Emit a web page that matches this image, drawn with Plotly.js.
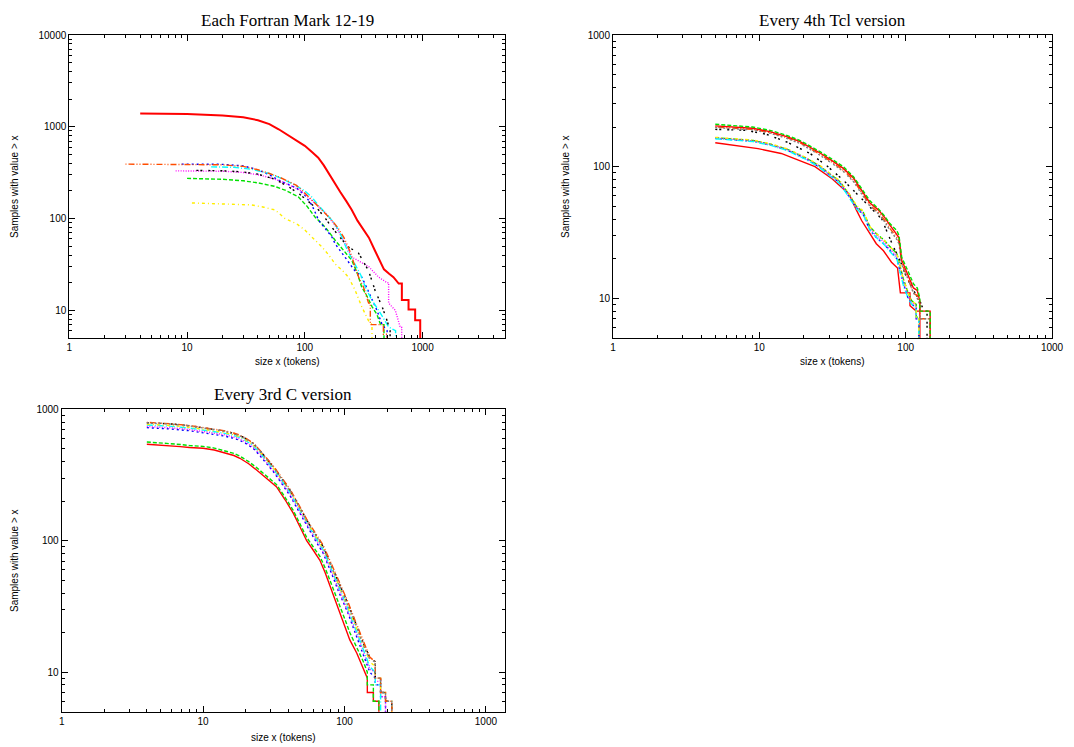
<!DOCTYPE html>
<html>
<head>
<meta charset="utf-8">
<script src="https://cdn.plot.ly/plotly-3.0.1.min.js"></script>
<style>html,body{margin:0;padding:0;background:#fff;}#chart{width:1074px;height:747px;}</style>
</head>
<body>
<div id="chart"></div>
<script>
// ---------- Panel 1: Each Fortran Mark 12-19 ----------
const p1Names = ["Mark 12","Mark 13","Mark 14","Mark 15","Mark 16","Mark 17","Mark 18","Mark 19"];
const f12x = [4, 10, 20, 30, 40, 50, 60, 70, 80, 90, 100, 115, 130, 145, 160, 180, 200, 225, 250, 280, 310, 350, 390, 430, 470, 520, 566, 627, 667, 667, 760, 760, 865, 865, 955, 955];
const f12y = [1400, 1375, 1330, 1270, 1180, 1070, 940, 830, 750, 690, 620, 530, 460, 380, 310, 235, 195, 155, 125, 95, 78, 62, 46, 35, 28, 25, 23, 19.6, 19.6, 13, 13, 10.2, 10.2, 7.8, 7.8, 4];
const f13x = [10, 20, 30, 40, 55, 68, 88, 105, 122, 150, 181, 215, 251, 280, 304, 340, 372, 410, 440, 470, 470];
const f13y = [274, 268, 258, 245, 225, 204, 173, 135, 104, 80, 58, 44, 35, 25, 18, 14, 11, 9, 7, 7, 4];
const f14x = [9, 20, 30, 40, 50, 60, 70, 85, 100, 115, 131, 150, 170, 181, 200, 230, 260, 305, 340, 372, 410, 453, 500, 500];
const f14y = [392, 390, 375, 340, 300, 262, 240, 215, 180, 140, 96, 78, 63, 53, 45, 35, 28, 23, 17, 13, 10, 7, 6, 4];
const f15x = [8, 20, 30, 40, 50, 60, 75, 90, 100, 120, 150, 180, 210, 251, 300, 348, 424, 500, 515, 515, 587, 647, 665, 665];
const f15y = [331, 328, 318, 300, 280, 260, 230, 205, 185, 150, 115, 85, 60, 38, 33, 30, 23, 20, 20, 12, 10, 6.5, 6.5, 4];
const f16x = [16, 25, 35, 50, 65, 83, 100, 114, 130, 150, 170, 190, 206, 230, 268, 300, 326, 370, 424, 470, 515, 590, 590];
const f16y = [366, 362, 345, 310, 270, 231, 200, 173, 140, 115, 96, 78, 63, 45, 32, 24, 18, 13, 10, 8, 6.6, 6, 4];
const f17x = [11, 20, 35, 45, 56, 68, 85, 100, 120, 140, 160, 181, 210, 235, 268, 304, 348, 372, 372];
const f17y = [148, 145, 141, 133, 124, 100, 88, 75, 60, 49, 40, 32, 27, 23, 16.5, 11, 7.7, 7, 4];
const f18x = [12, 20, 30, 40, 55, 73, 90, 110, 131, 150, 170, 200, 235, 286, 348, 395, 453, 500, 530, 530];
const f18y = [335, 332, 322, 305, 270, 222, 185, 150, 124, 100, 80, 62, 49, 42, 27, 16.5, 11, 7.7, 6, 4];
const f19x = [3, 10, 20, 30, 40, 50, 60, 70, 85, 100, 120, 140, 165, 190, 215, 240, 268, 290, 315, 348, 360, 360, 465, 465, 500, 500];
const f19y = [392, 390, 385, 370, 340, 310, 285, 260, 230, 190, 150, 125, 100, 80, 62, 45, 30, 22, 18, 12, 12, 7, 7, 5.5, 5.5, 3];

// ---------- Panel 2: Every 4th Tcl version ----------
const t1x = [5, 9.8, 14.1, 17.5, 24, 31.4, 41, 46, 50, 57, 63, 70.5, 80, 88, 92, 107, 107, 118, 125, 125];
const t1y = [152, 137, 126, 115, 100, 81, 62, 47, 39, 31, 26, 23, 18.8, 17, 11, 11, 8.8, 8, 8, 4];
const tLowX = [5, 9.1, 12, 15.4, 21, 26, 30, 35.6, 41.6, 46, 51.4, 57, 63, 70.5, 80, 87, 96.5, 104, 110, 118, 118, 123, 123];
const t2y = [166, 158, 148, 136, 116, 101, 89, 77, 60, 50, 45, 35, 31, 28, 24, 22, 14, 11, 9.6, 9, 7.2, 7.2, 4];
const t3y = [164, 156, 146, 134, 114, 99, 87, 75, 58, 49, 43, 33, 29, 26, 22.5, 20, 12.9, 10, 9, 8.5, 7, 7, 4];
const t4y = [165, 157, 147, 135, 115, 100, 88, 76, 59, 49, 44, 34, 30, 27, 23, 21, 13.5, 10.5, 9.3, 8.8, 7, 7, 4];
const t5y = [163, 155, 145, 133, 113, 98, 86, 74, 57, 48, 43, 33, 29, 26, 22, 20, 12.5, 10, 9, 8.5, 7, 7, 4];
const t6y = [167, 159, 149, 137, 117, 102, 90, 78, 61, 51, 46, 35, 31, 28, 24, 22, 14, 11, 9.6, 9, 7.2, 7.2, 4];
const t7x = [5, 8, 11.2, 15.4, 22.2, 28.8, 37.5, 48.8, 63, 68.7, 74, 82, 91.6, 100, 113, 125, 133, 140, 140];
const t7y = [192, 189, 176, 154, 126, 102, 79, 59, 44, 40, 32.7, 25, 19.4, 15, 11.5, 9.6, 8, 8, 4];
const tTopX = [5, 9, 12, 15.4, 19, 22, 26, 31, 37.5, 44, 50, 57, 65, 72, 78, 87, 90, 94, 104, 113, 120, 125, 125, 147, 147];
const t8y = [200, 192, 181, 166, 152, 139, 124, 109, 94, 79, 64, 51, 45, 39, 34, 29, 27, 18.5, 14, 11, 10.5, 9, 7, 7, 4];
const t9y = [198, 190, 179, 164, 150, 137, 122, 107, 92, 77, 62, 50, 44, 38, 33, 28, 26, 18, 14, 11, 10, 9, 7, 7, 4];
const t10y = [204, 196, 184, 169, 155, 142, 127, 112, 97, 82, 66, 53, 47, 41, 36, 31, 29, 19.5, 15, 12, 11.5, 9.5, 8, 8, 4];
const t11y = [210, 200, 188, 173, 158, 145, 130, 115, 100, 84, 68, 55, 48, 42, 37, 32.7, 30, 20.5, 16, 12.9, 12, 10, 8, 8, 4];

// ---------- Panel 3: Every 3rd C version ----------
const cLowX = [4, 5, 6.9, 8, 10, 12, 14.7, 16.5, 18.2, 21, 23.9, 28, 33, 38, 43.4, 48, 54, 60, 67, 73, 79, 86, 93, 101, 109, 122, 136, 145, 145, 160, 160, 175, 175];
const c1y = [542, 535, 520, 512, 505, 490, 463, 445, 424, 385, 345, 300, 258, 205, 162, 130, 100, 85, 71, 57, 45, 36, 28, 22, 17.6, 14, 10.4, 9, 7, 7, 6, 6, 4];
const c2y = [564, 556, 540, 530, 522, 507, 480, 462, 440, 400, 360, 312, 268, 214, 170, 137, 106, 90, 76, 62, 50, 40, 32, 25, 20, 15.5, 12, 10, 8, 8, 6, 6, 4];
const cTopX = [4, 5, 6, 8, 10, 12, 14, 16.4, 18, 20, 22.6, 25, 28, 31.4, 36, 41.2, 47, 54, 62, 70.8, 77, 83.4, 90, 98, 106, 115, 125, 136, 151, 165, 165, 180, 180, 195, 195, 216, 216];
const c3y = [725, 719, 707, 687, 664, 646, 627, 602, 583, 551, 505, 449, 389, 335, 272, 220, 171, 130, 101, 80, 65, 52, 42, 34, 28, 22, 17.5, 13.5, 10, 9, 8, 8, 6.5, 6.5, 4, 4, 4];
const c4y = [740, 734, 722, 702, 680, 661, 642, 616, 596, 563, 516, 460, 399, 342, 278, 225, 175, 133, 104, 82, 67, 54, 44, 35.5, 29, 23, 18.5, 14.5, 10.5, 10, 8.5, 8.5, 6.5, 6.5, 4, 4, 3];
const c5y = [760, 754, 742, 720, 697, 678, 659, 632, 612, 578, 530, 472, 409, 352, 287, 232, 180, 137, 107, 85, 69, 56, 46, 37, 30, 24, 19, 15, 11, 10, 8, 8, 4, 4, 3, 3, 3];
const c6y = [770, 764, 752, 730, 706, 687, 668, 640, 620, 585, 537, 478, 415, 358, 292, 238, 185, 140, 110, 87, 71, 58, 47, 38, 31, 25, 20, 15.8, 12, 11, 9, 9, 7, 7, 6, 6, 4];
const c7y = [791, 785, 773, 750, 725, 705, 685, 656, 635, 600, 550, 490, 425, 366, 298, 243, 189, 144, 113, 90, 73, 60, 50, 40, 33, 26.5, 21, 16.6, 13, 12, 9, 9, 7, 7, 6, 6, 4];
const c8y = [795, 788, 776, 752, 727, 707, 688, 660, 639, 604, 554, 493, 428, 370, 302, 246, 192, 146, 115, 92, 75, 62, 51, 41, 34, 27, 21.5, 17, 13, 12, 9, 9, 7, 7, 6, 6, 4];
const c9y = [788, 782, 770, 748, 722, 702, 682, 652, 631, 596, 547, 487, 422, 362, 295, 240, 187, 142, 112, 89, 72, 59, 49, 39, 32, 26, 20.5, 16, 12.5, 12, 9, 9, 7, 7, 6, 6, 4];

// axis tick labels / titles
const xTickVals = [1, 10, 100, 1000];
const xTickText = ["1", "10", "100", "1000"];
const y1TickVals = [10, 100, 1000, 10000];
const y1TickText = ["10", "100", "1000", "10000"];
const yTickVals = [10, 100, 1000];
const yTickText = ["10", "100", "1000"];
const panelTitles = ["Each Fortran Mark 12-19", "Every 4th Tcl version", "Every 3rd C version"];
const xLabel = "size x (tokens)";
const yLabel = "Samples with value > x";

// gnuplot-like line styles
const styles = [
  {color:'#ff0000', dash:'solid'},
  {color:'#00e000', dash:'4px,2px'},
  {color:'#0000ff', dash:'2px,3px'},
  {color:'#ff00ff', dash:'1px,1.5px'},
  {color:'#00ffff', dash:'6px,2px,1px,2px'},
  {color:'#ffee00', dash:'3px,3px,1px,3px'},
  {color:'#000000', dash:'2px,2px,2px,6px'},
  {color:'#ff4d00', dash:'1px,2px,6px,2px,1px,2px'},
  {color:'#808080', dash:'2px,2px,2px,2px,2px,2px,2px,4px'}
];

function tr(x, y, styleIdx, ax, name, width) {
  const s = styles[styleIdx % styles.length];
  return {
    x: x, y: y, type: 'scatter', mode: 'lines', name: name,
    xaxis: 'x' + ax, yaxis: 'y' + ax,
    line: {color: s.color, dash: s.dash, width: width || 1.4, shape: 'linear'},
    hoverinfo: 'skip'
  };
}

const data = [
  tr(f12x, f12y, 0, '', p1Names[0], 2),
  tr(f13x, f13y, 1, '', p1Names[1]),
  tr(f14x, f14y, 2, '', p1Names[2]),
  tr(f15x, f15y, 3, '', p1Names[3]),
  tr(f16x, f16y, 4, '', p1Names[4]),
  tr(f17x, f17y, 5, '', p1Names[5]),
  tr(f18x, f18y, 6, '', p1Names[6]),
  tr(f19x, f19y, 7, '', p1Names[7]),

  tr(t1x, t1y, 0, '2', 'tcl1'),
  tr(tLowX, t2y, 1, '2', 'tcl2'),
  tr(tLowX, t3y, 2, '2', 'tcl3'),
  tr(tLowX, t4y, 3, '2', 'tcl4'),
  tr(tLowX, t5y, 4, '2', 'tcl5'),
  tr(tLowX, t6y, 5, '2', 'tcl6'),
  tr(t7x, t7y, 6, '2', 'tcl7'),
  tr(tTopX, t8y, 7, '2', 'tcl8'),
  tr(tTopX, t9y, 8, '2', 'tcl9'),
  tr(tTopX, t10y, 0, '2', 'tcl10'),
  tr(tTopX, t11y, 1, '2', 'tcl11'),

  tr(cLowX, c1y, 0, '3', 'c1'),
  tr(cLowX, c2y, 1, '3', 'c2'),
  tr(cTopX, c3y, 2, '3', 'c3'),
  tr(cTopX, c4y, 3, '3', 'c4'),
  tr(cTopX, c5y, 4, '3', 'c5'),
  tr(cTopX, c6y, 5, '3', 'c6'),
  tr(cTopX, c7y, 6, '3', 'c7'),
  tr(cTopX, c8y, 7, '3', 'c8'),
  tr(cTopX, c9y, 8, '3', 'c9')
];

// invisible carriers for the mirrored (top / right) tick axes
['4', '5', '6'].forEach(function (a) {
  data.push({x: [1], y: [1], type: 'scatter', mode: 'lines', xaxis: 'x' + a, yaxis: 'y' + a,
             line: {color: 'rgba(0,0,0,0)'}, hoverinfo: 'skip', showlegend: false});
});

const W = 1074, H = 747;
function axisBase(extra) {
  return Object.assign({
    type: 'log', ticks: 'inside', ticklen: 6, tickwidth: 1, tickcolor: '#000',
    showline: true, linecolor: '#000', linewidth: 1, mirror: true,
    showgrid: false, zeroline: false, fixedrange: true,
    tickfont: {family: 'Liberation Sans, Arial, sans-serif', size: 10, color: '#000'},
    minor: {ticks: 'inside', ticklen: 3, tickwidth: 1, tickcolor: '#000', dtick: 'D1', showgrid: false}
  }, extra);
}
const L5 = Math.log10(5);
const dom = (a, b) => [a / W, b / W];
const vdom = (top, bot) => [1 - bot / H, 1 - top / H];

const px1 = dom(69.3, 505), py1 = vdom(35, 338);
const px2 = dom(613, 1052), py2 = vdom(35, 338);
const px3 = dom(61.7, 505), py3 = vdom(409.3, 711.7);
const rx1 = [0, 3.7], ry1 = [L5, 4];
const rx2 = [0, 3], ry2 = [L5, 3];
const rx3 = [0, 3.135], ry3 = [L5, 3];

const layout = {
  width: W, height: H,
  margin: {l: 0, r: 0, t: 0, b: 0},
  paper_bgcolor: '#fff', plot_bgcolor: '#fff', showlegend: false,
  font: {family: 'Liberation Sans, Arial, sans-serif', size: 10, color: '#000'},
  xaxis: axisBase({domain: px1, range: rx1, anchor: 'y', tickvals: xTickVals, ticktext: xTickText}),
  yaxis: axisBase({domain: py1, range: ry1, anchor: 'x', tickvals: y1TickVals, ticktext: y1TickText}),
  xaxis2: axisBase({domain: px2, range: rx2, anchor: 'y2', tickvals: xTickVals, ticktext: xTickText}),
  yaxis2: axisBase({domain: py2, range: ry2, anchor: 'x2', tickvals: yTickVals, ticktext: yTickText}),
  xaxis3: axisBase({domain: px3, range: rx3, anchor: 'y3', tickvals: xTickVals, ticktext: xTickText}),
  yaxis3: axisBase({domain: py3, range: ry3, anchor: 'x3', tickvals: yTickVals, ticktext: yTickText}),
  // mirrored tick axes (top and right), no labels
  xaxis4: axisBase({overlaying: 'x', side: 'top', anchor: 'y4', range: rx1, tickvals: xTickVals, showticklabels: false}),
  yaxis4: axisBase({overlaying: 'y', side: 'right', anchor: 'x4', range: ry1, tickvals: y1TickVals, showticklabels: false}),
  xaxis5: axisBase({overlaying: 'x2', side: 'top', anchor: 'y5', range: rx2, tickvals: xTickVals, showticklabels: false}),
  yaxis5: axisBase({overlaying: 'y2', side: 'right', anchor: 'x5', range: ry2, tickvals: yTickVals, showticklabels: false}),
  xaxis6: axisBase({overlaying: 'x3', side: 'top', anchor: 'y6', range: rx3, tickvals: xTickVals, showticklabels: false}),
  yaxis6: axisBase({overlaying: 'y3', side: 'right', anchor: 'x6', range: ry3, tickvals: yTickVals, showticklabels: false}),
  annotations: []
};

function ann(text, px, py, opts) {
  return Object.assign({
    text: text, xref: 'paper', yref: 'paper', x: px / W, y: 1 - py / H,
    xanchor: 'center', yanchor: 'middle', showarrow: false,
    font: {family: 'Liberation Sans, Arial, sans-serif', size: 10, color: '#000'}
  }, opts || {});
}
const serif = {family: 'Liberation Serif, Times New Roman, serif', size: 17, color: '#000'};
layout.annotations.push(ann(panelTitles[0], 287, 20, {font: serif}));
layout.annotations.push(ann(panelTitles[1], 832, 20, {font: serif}));
layout.annotations.push(ann(panelTitles[2], 283, 394, {font: serif}));
layout.annotations.push(ann(xLabel, 287, 361));
layout.annotations.push(ann(xLabel, 832, 361));
layout.annotations.push(ann(xLabel, 283, 737));
layout.annotations.push(ann(yLabel, 14, 187, {textangle: -90}));
layout.annotations.push(ann(yLabel, 565, 187, {textangle: -90}));
layout.annotations.push(ann(yLabel, 14, 561, {textangle: -90}));

Plotly.newPlot('chart', data, layout, {staticPlot: true, displayModeBar: false});
</script>
</body>
</html>
